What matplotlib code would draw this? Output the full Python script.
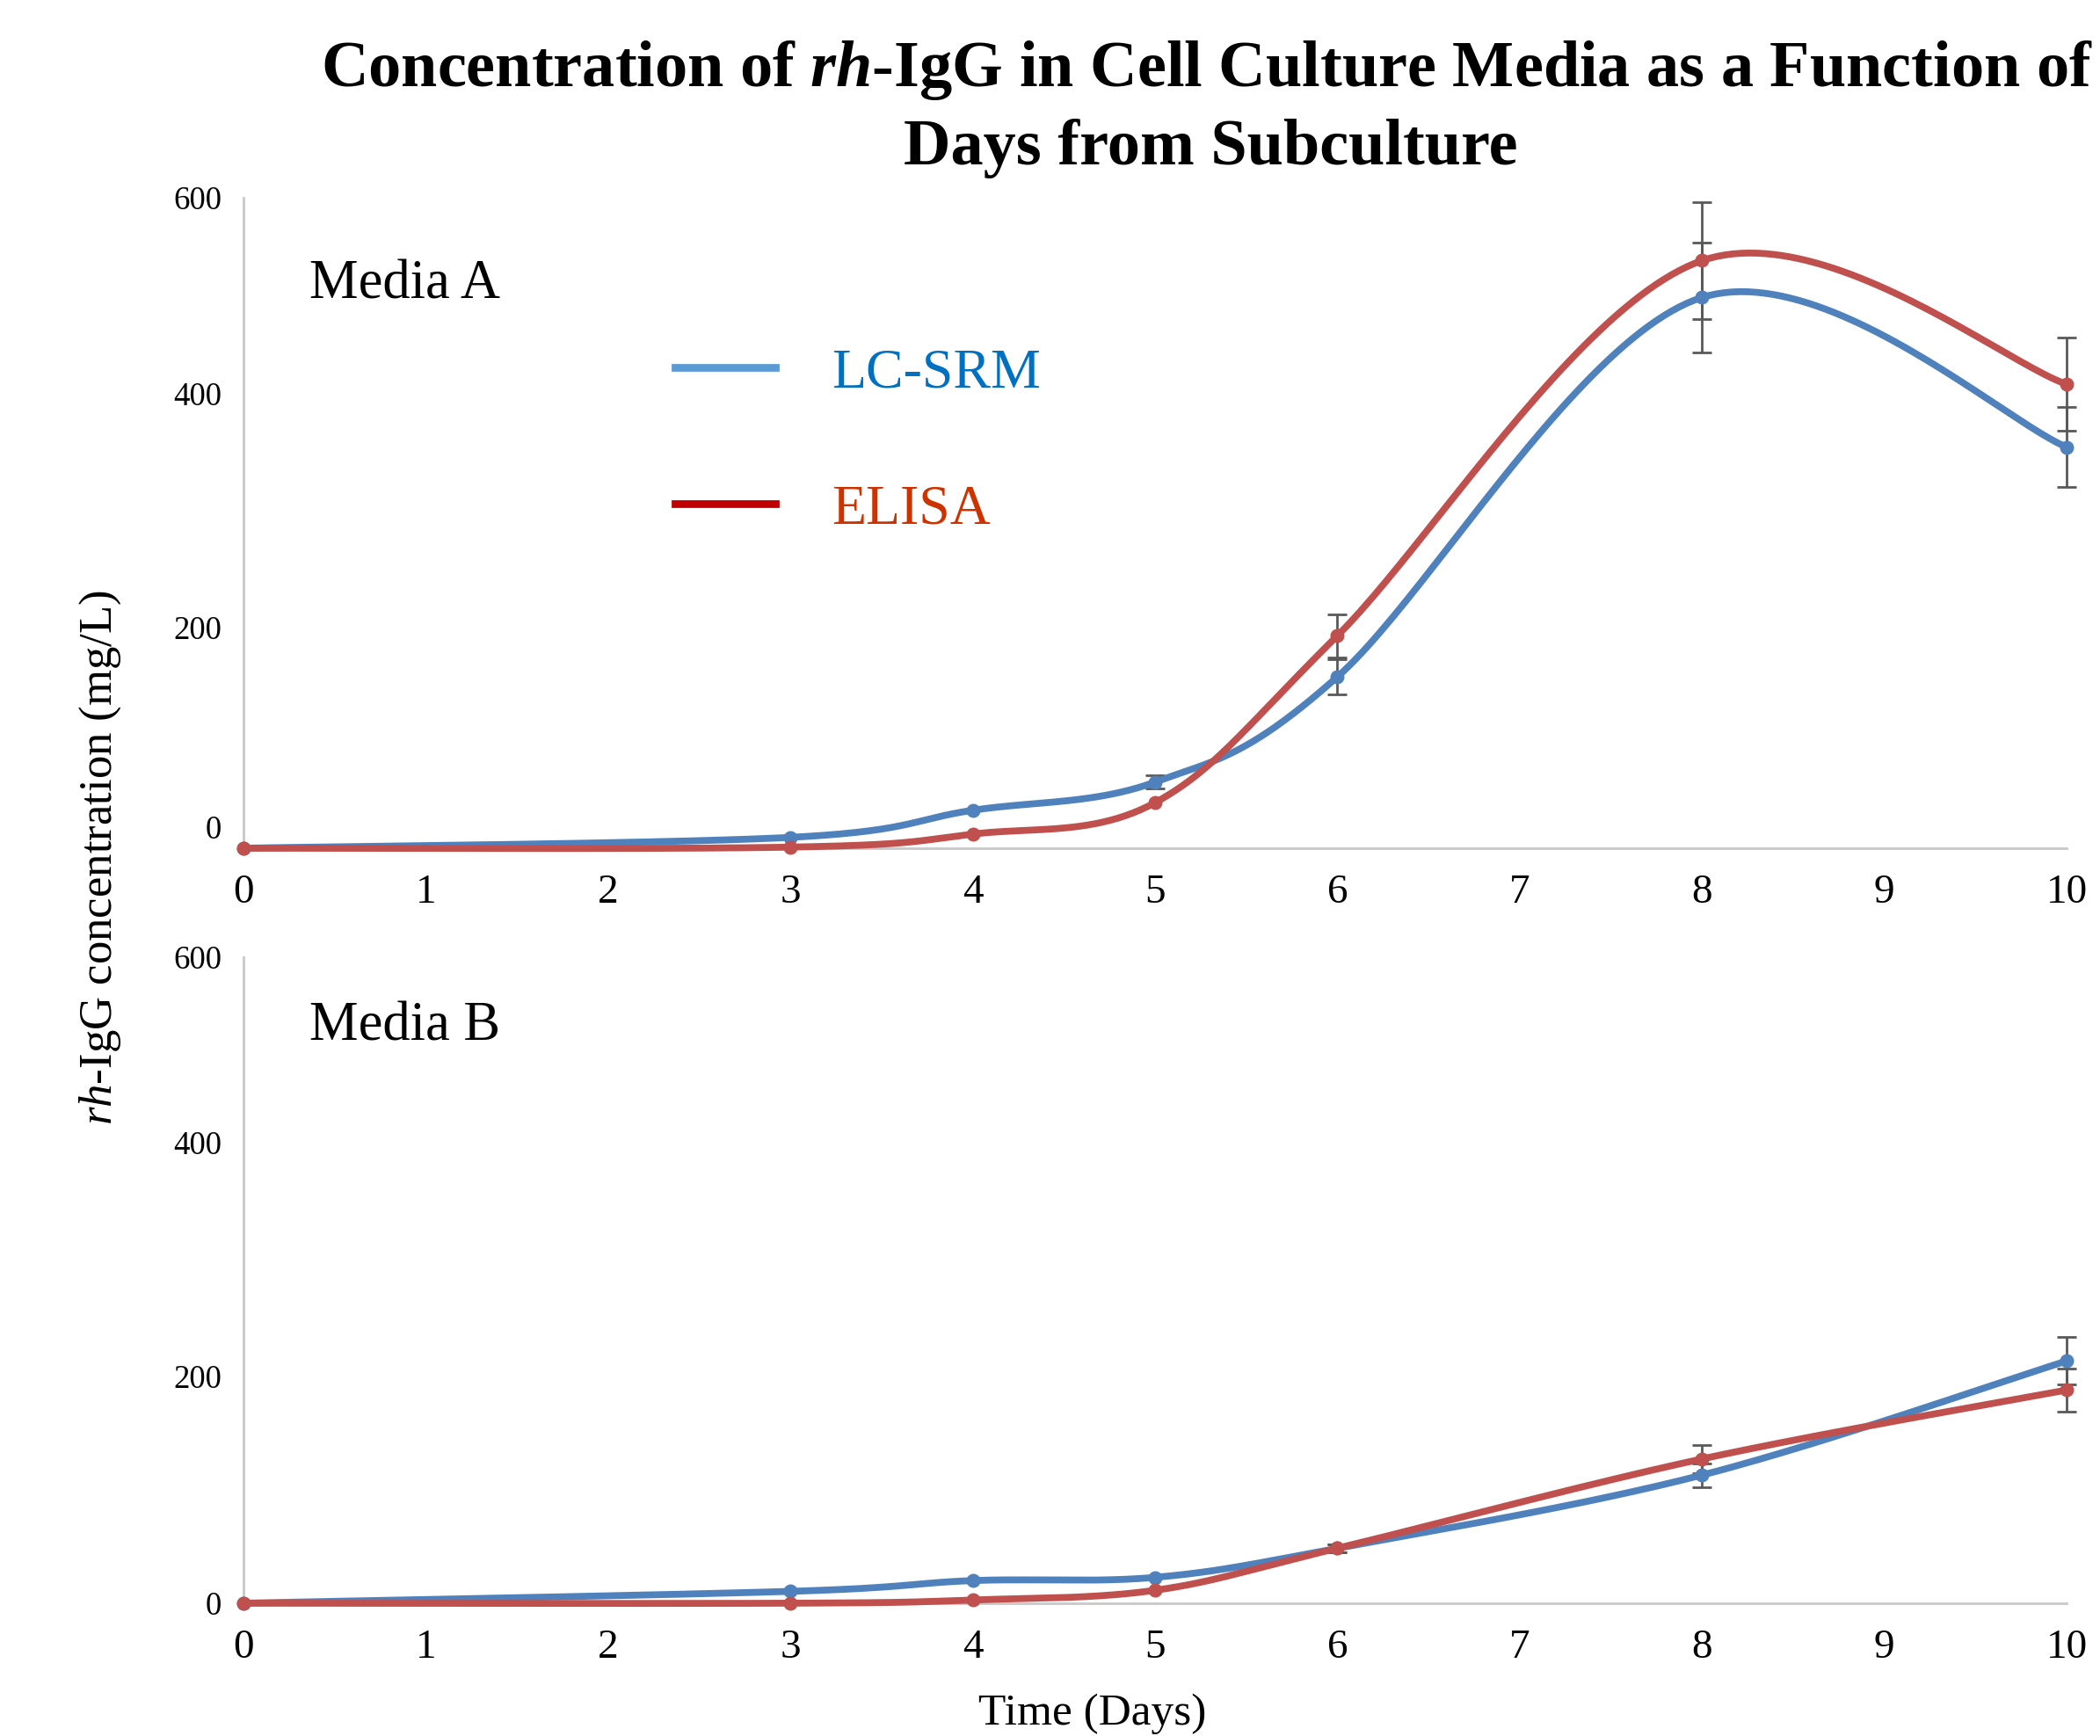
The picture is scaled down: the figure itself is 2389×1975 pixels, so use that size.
import numpy as np
import matplotlib
matplotlib.use("Agg")
import matplotlib.pyplot as plt
from matplotlib.lines import Line2D

# values (mg/L)
days = [0, 3, 4, 5, 6, 8, 10]
a_lcsrm = [0, 10, 35, 61, 158, 508, 370]
a_lcsrm_err = [0, 0, 0, 6, 16, 51, 37]
a_elisa = [0, 1, 13, 42, 196, 542, 428]
a_elisa_err = [0, 0, 0, 0, 20, 54, 43]
b_lcsrm = [0, 11, 21, 24, 51, 119, 225]
b_lcsrm_err = [0, 0, 0, 0, 4, 11, 22]
b_elisa = [0, 0, 3, 12, 51, 134, 198]
b_elisa_err = [0, 0, 0, 0, 4, 13, 20]

x_ticks = list(range(0, 11))
y_tick_labels = ["0", "200", "400", "600"]
# the y labels in the source sit a little off their values, keep that look
a_ytick_pos = [20, 204, 419, 600]
b_ytick_pos = [0, 211, 428, 600]

series_names = ["LC-SRM", "ELISA"]
line_colors = ["#4F81BD", "#C0504D"]
legend_colors = ["#5B9BD5", "#C00000"]
legend_text_colors = ["#0070C0", "#CC3300"]

plt.rcParams["font.family"] = "Liberation Serif"
plt.rcParams["mathtext.fontset"] = "custom"
plt.rcParams["mathtext.rm"] = "Liberation Serif"
plt.rcParams["mathtext.it"] = "Liberation Serif:italic"
plt.rcParams["mathtext.bf"] = "Liberation Serif:bold"
plt.rcParams["mathtext.bfit"] = "Liberation Serif:italic:bold"


def smooth(ax, x, y, n=50):
    """excel-like smoothed line: catmull-rom bezier in screen space"""
    pts = ax.transData.transform(np.column_stack([x, y]).astype(float))
    p = np.vstack([pts[0], pts, pts[-1]])
    t = np.linspace(0, 1, n)[:, None]
    out = []
    for i in range(1, len(p) - 2):
        p0, p1, p2, p3 = p[i - 1], p[i], p[i + 1], p[i + 2]
        c1 = p1 + (p2 - p0) / 6.0
        c2 = p2 - (p3 - p1) / 6.0
        seg = (1 - t) ** 3 * p1 + 3 * (1 - t) ** 2 * t * c1 + 3 * (1 - t) * t ** 2 * c2 + t ** 3 * p2
        out.append(seg)
    res = ax.transData.inverted().transform(np.vstack(out))
    return res[:, 0], res[:, 1]


def draw_panel(ax, lc, lc_err, el, el_err, ytick_pos, label):
    ax.set_xlim(0, 10)
    ax.set_ylim(0, 600)
    for s in ["top", "right"]:
        ax.spines[s].set_visible(False)
    for s in ["left", "bottom"]:
        ax.spines[s].set_color("#C8C8C8")
        ax.spines[s].set_linewidth(2)
    ax.set_xticks(x_ticks)
    ax.set_yticks(ytick_pos)
    ax.set_yticklabels(y_tick_labels)
    ax.tick_params(axis="x", length=0, pad=21, labelsize=34)
    ax.tick_params(axis="y", length=0, pad=18, labelsize=26.5)

    for vals, errs, col in [(lc, lc_err, line_colors[0]), (el, el_err, line_colors[1])]:
        vals = np.array(vals, dtype=float)
        errs = np.array(errs, dtype=float)
        d = np.array(days, dtype=float)
        m = errs > 0
        ax.errorbar(d[m], vals[m], yerr=errs[m], fmt="none", ecolor="#595959",
                    elinewidth=2, capsize=8, capthick=2, zorder=2, clip_on=False)
        sx, sy = smooth(ax, d, vals)
        ax.plot(sx, sy, color=col, lw=5.6, solid_capstyle="round", zorder=3, clip_on=False)
        ax.plot(d, vals, "o", color=col, ms=10.5, zorder=4, clip_on=False)

    ax.text(0.036, label[1], label[0], transform=ax.transAxes, fontsize=45,
            va="baseline", ha="left")


fig = plt.figure(figsize=(23.89, 19.75), dpi=100)
ax_a = fig.add_axes([0.1159, 0.5114, 0.8682, 0.3747])
ax_b = fig.add_axes([0.1159, 0.0765, 0.8682, 0.3721])

draw_panel(ax_a, a_lcsrm, a_lcsrm_err, a_elisa, a_elisa_err, a_ytick_pos, ("Media A", 0.845))
draw_panel(ax_b, b_lcsrm, b_lcsrm_err, b_elisa, b_elisa_err, b_ytick_pos, ("Media B", 0.871))

handles = [Line2D([], [], color=c, lw=6.3) for c in legend_colors]
leg = ax_a.legend(handles, series_names, loc="center left", bbox_to_anchor=(0.3215, 0.7455),
                  bbox_transform=fig.transFigure, frameon=False, fontsize=46,
                  handlelength=1.78, handletextpad=1.0, labelspacing=1.5,
                  borderpad=0, borderaxespad=0, labelcolor=legend_text_colors)

fig.text(0.5745, 0.9504, r"Concentration of $\mathbfit{rh}$-IgG in Cell Culture Media as a Function of",
         ha="center", va="baseline", fontsize=53.5, fontweight="bold")
fig.text(0.5764, 0.9053, "Days from Subculture", ha="center", va="baseline",
         fontsize=53.5, fontweight="bold")

fig.text(0.0477, 0.5063, r"$\mathit{rh}$-IgG concentration (mg/L)", rotation=90,
         ha="center", va="center", fontsize=38)
fig.text(0.5203, 0.0068, "Time (Days)", ha="center", va="baseline", fontsize=37)

fig.savefig("out.png", dpi=100)
